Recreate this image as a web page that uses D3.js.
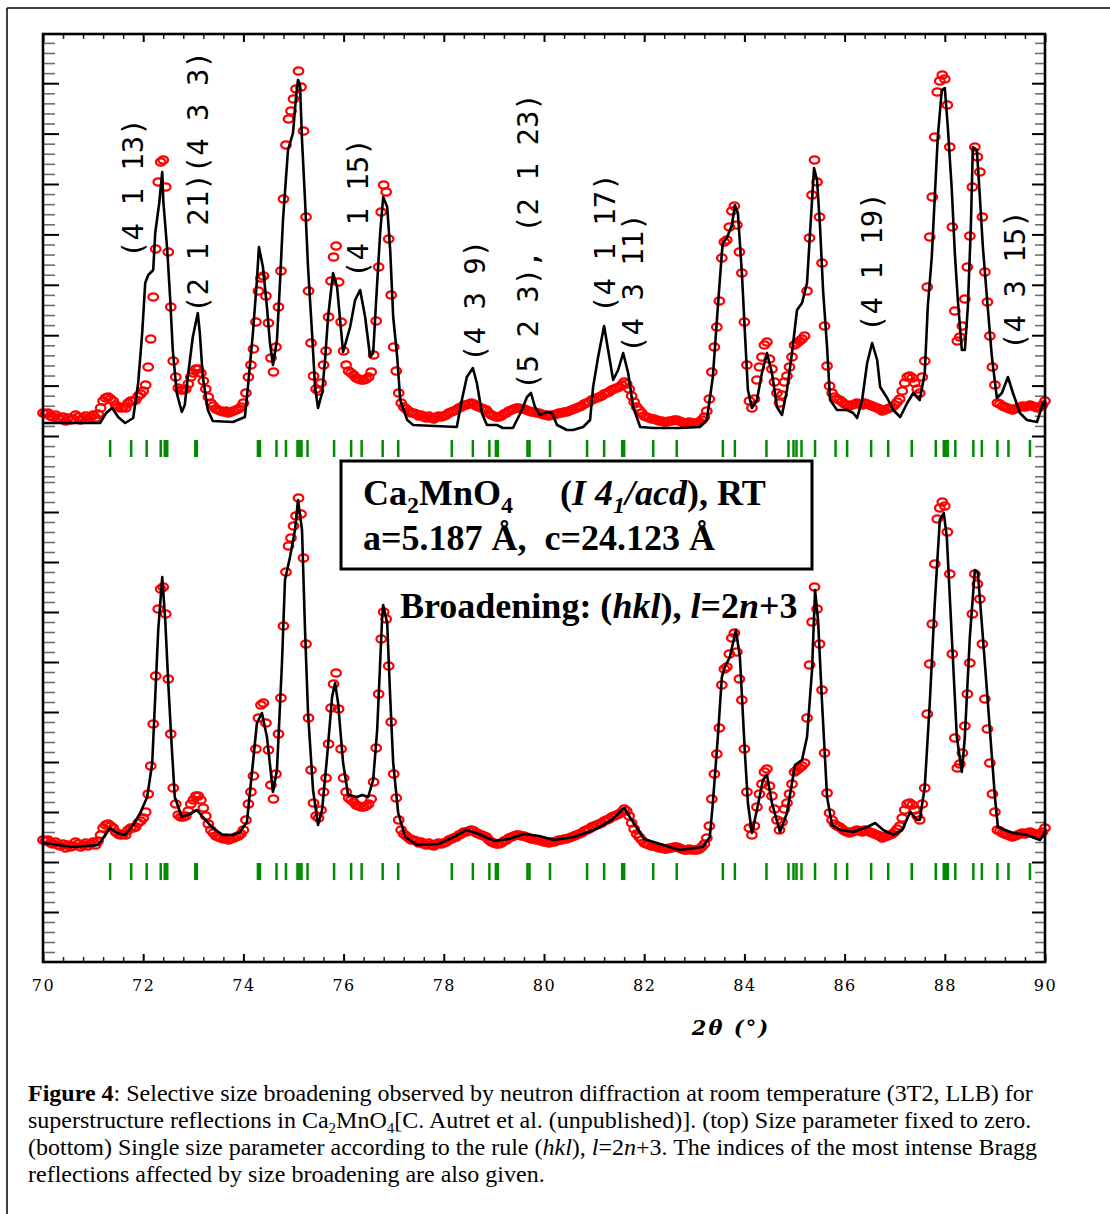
<!DOCTYPE html>
<html>
<head>
<meta charset="utf-8">
<script src="https://cdn.jsdelivr.net/npm/d3@7/dist/d3.min.js"></script>
<style>
  body { margin: 0; background: #fff; }
  svg { display: block; }
</style>
</head>
<body>
<svg id="fig" width="1110" height="1214"></svg>
<script>
// observed counts, 2theta from 70 to 90 in steps of 0.05 (one row per degree)
var obsStart = 70, obsStep = 0.05;
var obsCounts = [
  104,103,104,101,100,102,99,98,100,96,99,97,98,102,100,97,99,101,98,100,
  102,99,103,109,116,119,120,118,116,112,110,109,110,109,114,116,116,117,121,123,
  126,132,150,178,220,268,335,355,357,330,265,210,156,140,129,127,127,128,133,140,
  144,148,148,144,136,128,120,114,111,108,107,106,105,106,104,105,106,107,108,110,
  114,124,140,152,168,195,226,239,241,221,194,159,145,170,210,246,318,372,398,406,
  418,428,446,430,386,300,226,174,141,128,126,134,152,166,200,236,260,271,235,195,
  166,152,146,144,142,139,138,137,137,138,140,145,162,196,250,305,332,325,278,222,
  170,146,124,114,110,108,106,104,104,103,101,102,100,99,101,99,98,100,101,100,
  101,102,104,105,106,107,109,110,112,112,113,114,113,111,110,109,108,107,104,102,
  101,100,100,101,103,104,106,107,108,109,109,108,108,107,106,105,105,104,104,103,
  102,102,101,102,102,103,104,104,105,105,106,107,108,109,110,111,113,114,115,117,
  118,119,120,121,123,124,125,127,128,129,130,132,135,133,128,121,115,110,107,104,
  101,100,99,98,98,97,96,96,95,95,96,96,97,97,96,95,94,94,95,94,
  94,94,95,97,100,106,118,145,170,190,216,259,275,277,290,306,311,292,265,244,
  195,152,116,109,118,137,150,160,172,175,158,148,135,124,114,122,135,141,150,160,
  172,174,176,178,181,226,279,322,357,335,300,254,191,151,131,124,120,118,117,115,
  113,112,111,112,113,114,113,112,114,113,112,111,110,109,108,106,107,108,109,110,
  112,115,118,126,134,140,141,139,134,128,124,140,156,230,280,320,380,425,436,442,
  438,412,370,290,206,176,180,191,218,250,281,330,370,360,345,300,245,215,181,150,
  132,114,113,111,110,109,108,107,108,109,110,111,110,111,112,111,110,109,110,112,
  116
];

// calculated profile, size parameter fixed to zero (top)
var calcTop = [
  [70.00,94],[71.14,94],[71.26,104],[71.38,109],[71.50,100],[71.64,94],[71.80,99],[71.90,134],
  [71.98,184],[72.04,234],[72.10,242],[72.20,247],[72.24,284],[72.32,314],[72.38,345],[72.40,317],
  [72.48,267],[72.54,217],[72.59,167],[72.67,124],[72.77,105],[72.83,112],[72.89,140],[72.99,180],
  [73.09,204],[73.13,184],[73.19,140],[73.29,107],[73.39,96],[73.79,95],[74.03,100],[74.09,130],
  [74.19,184],[74.27,237],[74.31,270],[74.39,250],[74.47,210],[74.53,174],[74.59,152],[74.67,177],
  [74.73,234],[74.79,297],[74.89,367],[74.99,384],[75.05,420],[75.09,437],[75.13,432],[75.17,377],
  [75.23,317],[75.29,250],[75.37,184],[75.43,130],[75.49,109],[75.57,124],[75.63,157],[75.69,200],
  [75.79,244],[75.87,230],[75.93,197],[75.99,165],[76.13,190],[76.23,217],[76.33,227],[76.43,200],
  [76.53,160],[76.59,164],[76.67,234],[76.73,284],[76.79,320],[76.87,310],[76.93,267],[76.99,200],
  [77.07,160],[77.13,117],[77.27,97],[77.39,92],[78.26,90],[78.36,117],[78.46,140],[78.58,149],
  [78.66,134],[78.76,104],[78.86,92],[79.06,92],[79.18,89],[79.38,89],[79.56,107],[79.66,120],
  [79.74,124],[79.82,110],[79.92,102],[80.06,105],[80.16,104],[80.26,92],[80.46,87],[80.58,87],
  [80.78,90],[80.92,97],[80.98,130],[81.08,160],[81.20,191],[81.28,167],[81.38,137],[81.48,147],
  [81.58,164],[81.68,144],[81.78,110],[81.92,90],[82.18,89],[82.71,89],[83.11,90],[83.25,97],
  [83.37,140],[83.47,210],[83.55,264],[83.57,274],[83.65,279],[83.75,292],[83.81,312],[83.87,304],
  [83.95,244],[84.01,184],[84.07,127],[84.15,109],[84.25,117],[84.35,144],[84.45,164],[84.55,144],
  [84.65,110],[84.75,102],[84.85,127],[84.95,164],[85.05,207],[85.15,214],[85.25,234],[85.31,284],
  [85.39,349],[85.45,337],[85.51,290],[85.57,227],[85.65,170],[85.71,117],[85.85,107],[86.05,107],
  [86.17,104],[86.25,99],[86.35,117],[86.45,154],[86.55,174],[86.65,157],[86.71,130],[86.85,119],
  [86.97,107],[87.11,100],[87.25,114],[87.37,124],[87.50,117],[87.60,144],[87.66,210],[87.74,260],
  [87.80,320],[87.86,380],[87.94,427],[88.00,429],[88.06,390],[88.14,327],[88.20,264],[88.26,217],
  [88.34,167],[88.40,167],[88.46,210],[88.52,290],[88.56,370],[88.64,367],[88.70,320],[88.76,270],
  [88.84,220],[88.94,160],[89.04,119],[89.14,124],[89.26,140],[89.36,124],[89.50,104],[89.64,97],
  [89.84,95],[89.96,114],[90.00,112]
];

// calculated profile with the (hkl), l=2n+3 size parameter (bottom)
var calcBottom = [
  [70.00,101],[70.60,97],[71.10,99],[71.34,116],[71.48,111],[71.64,109],[71.80,119],[71.94,131],
  [72.08,147],[72.18,181],[72.24,247],[72.30,314],[72.38,367],[72.44,324],[72.50,261],[72.57,197],
  [72.63,147],[72.77,127],[72.89,129],[73.07,134],[73.19,127],[73.39,116],[73.59,109],[73.79,109],
  [73.93,112],[74.07,122],[74.19,181],[74.27,221],[74.37,231],[74.47,207],[74.59,152],[74.67,174],
  [74.77,281],[74.83,364],[74.93,387],[75.03,414],[75.09,444],[75.17,414],[75.23,314],[75.29,231],
  [75.39,154],[75.49,119],[75.57,134],[75.67,187],[75.77,247],[75.83,261],[75.89,241],[75.99,181],
  [76.09,149],[76.27,147],[76.37,149],[76.49,147],[76.59,164],[76.67,214],[76.77,327],[76.79,339],
  [76.87,321],[76.93,247],[76.99,181],[77.09,131],[77.23,107],[77.47,99],[77.90,100],[78.20,107],
  [78.45,114],[78.70,110],[79.00,103],[79.30,105],[79.60,110],[79.90,108],[80.20,104],[80.60,107],
  [81.00,114],[81.35,124],[81.60,136],[81.75,124],[82.00,105],[82.50,97],[82.71,94],[83.17,97],
  [83.31,107],[83.37,141],[83.47,207],[83.55,267],[83.61,277],[83.71,287],[83.83,314],[83.91,287],
  [84.01,191],[84.07,141],[84.15,111],[84.25,134],[84.37,164],[84.45,169],[84.55,141],[84.71,112],
  [84.85,131],[85.01,179],[85.15,184],[85.25,207],[85.35,274],[85.41,354],[85.47,324],[85.55,241],
  [85.65,147],[85.75,119],[85.91,114],[86.17,112],[86.45,117],[86.61,121],[86.77,114],[86.97,109],
  [87.15,114],[87.31,132],[87.45,124],[87.50,124],[87.60,157],[87.70,241],[87.80,341],[87.90,424],
  [87.98,431],[88.04,407],[88.14,307],[88.24,207],[88.34,172],[88.40,207],[88.50,307],[88.60,374],
  [88.66,371],[88.76,307],[88.86,241],[89.00,147],[89.06,117],[89.20,114],[89.36,111],[89.64,109],
  [89.90,104],[90.00,111]
];

// Bragg reflection positions (2theta)
var braggPos = [
  71.34,71.76,72.07,72.35,72.43,72.48,73.04,73.07,74.29,74.33,74.66,74.85,75.08,75.12,75.16,
  75.28,75.81,76.15,76.36,76.78,77.09,78.16,78.58,78.91,79.04,79.08,79.67,79.71,80.12,80.86,
  81.20,81.56,81.60,82.18,82.65,83.57,83.81,84.44,84.88,84.98,85.04,85.14,85.41,85.82,86.05,
  86.53,86.87,87.34,87.82,87.98,88.02,88.06,88.21,88.57,88.74,89.05,89.27,89.70
];

// hkl labels of the top panel: text, 2theta of the baseline, counts at the start of the text
var hklText = ['(4 1 13)', '(2 1 21)(4 3 3)', '(4 1 15)', '(4 3 9)', '(5 2 3), (2 1 23)',
               '(4 1 17)', '(4 3 11)', '(4 1 19)', '(4 3 15)'];
var hklAt = [72.00, 73.29, 76.49, 78.82, 79.88, 81.42, 81.98, 86.75, 89.60];
var hklBase = [259, 204, 239, 155, 127, 204, 164, 185, 167];

var xLabels = [70, 72, 74, 76, 78, 80, 82, 84, 86, 88, 90];

var svg = d3.select('#fig');

var x = d3.scaleLinear().domain([70, 90]).range([43, 1045]);
var yTop = d3.scaleLinear().domain([0, 483]).range([517, 34]);
var yBot = d3.scaleLinear().domain([0, 482]).range([944, 462]);
// tick scales for the two stacked frames (no labels on the intensity axes)
var tTop = d3.scaleLinear().domain([0, 100]).range([486.4, -17.6]);
var tBot = d3.scaleLinear().domain([0, 100]).range([962, 462]);

var obsData = obsCounts.map(function(c, i) { return [obsStart + i * obsStep, c]; });

// outer figure frame
svg.append('line').attr('x1', 7).attr('y1', 8).attr('x2', 1110).attr('y2', 8)
  .attr('stroke', '#000').attr('stroke-width', 1.5);
svg.append('line').attr('x1', 7).attr('y1', 8).attr('x2', 7).attr('y2', 1214)
  .attr('stroke', '#000').attr('stroke-width', 1.5);

// ---- axes ----
function styleTicks(g, colour, width) {
  g.select('.domain').remove();
  g.selectAll('.tick line').attr('stroke', colour).attr('stroke-width', width);
}

var xMinor = d3.range(0, 51).filter(function(i) { return i % 5; })
  .map(function(i) { return 70 + i * 0.4; });

svg.append('g').attr('transform', 'translate(0,962)')
  .call(d3.axisBottom(x).tickValues(xMinor).tickSize(-5).tickFormat(''))
  .call(styleTicks, '#222', 1.5);
svg.append('g').attr('transform', 'translate(0,962)')
  .call(d3.axisBottom(x).tickValues(xLabels).tickSize(-8).tickPadding(18).tickFormat(d3.format('d')))
  .call(styleTicks, '#000', 2)
  .call(function(g) {
    g.selectAll('text')
      .attr('font-family', '"DejaVu Serif", serif')
      .attr('font-size', 16)
      .attr('letter-spacing', 1.5)
      .attr('fill', '#000');
  });

svg.append('g').attr('transform', 'translate(0,34)')
  .call(d3.axisTop(x).tickValues(xMinor).tickSize(-5).tickFormat(''))
  .call(styleTicks, '#222', 1.5);
svg.append('g').attr('transform', 'translate(0,34)')
  .call(d3.axisTop(x).tickValues(xLabels).tickSize(-8).tickFormat(''))
  .call(styleTicks, '#000', 2);

function yAxes(scale, minorVals, majorVals) {
  svg.append('g').attr('transform', 'translate(43,0)')
    .call(d3.axisLeft(scale).tickValues(minorVals).tickSize(-12).tickFormat(''))
    .call(styleTicks, '#6e6e6e', 1.6);
  svg.append('g').attr('transform', 'translate(43,0)')
    .call(d3.axisLeft(scale).tickValues(majorVals).tickSize(-16).tickFormat(''))
    .call(styleTicks, '#000', 2);
  svg.append('g').attr('transform', 'translate(1045,0)')
    .call(d3.axisRight(scale).tickValues(minorVals).tickSize(-10).tickFormat(''))
    .call(styleTicks, '#6e6e6e', 1.6);
  svg.append('g').attr('transform', 'translate(1045,0)')
    .call(d3.axisRight(scale).tickValues(majorVals).tickSize(-13).tickFormat(''))
    .call(styleTicks, '#000', 2);
}
var isMajor = function(v) { return v % 10 === 0; };
var topTicks = d3.range(2, 90, 2), botTicks = d3.range(2, 98, 2);
yAxes(tTop, topTicks.filter(function(v) { return !isMajor(v); }), topTicks.filter(isMajor));
yAxes(tBot, botTicks.filter(function(v) { return !isMajor(v); }), botTicks.filter(isMajor));

// ---- panels ----
function drawPanel(y, calc, braggY) {
  var g = svg.append('g');
  g.selectAll('line.bragg')
    .data(braggPos)
    .enter()
    .append('line')
    .attr('class', 'bragg')
    .attr('x1', function(d) { return x(d); })
    .attr('x2', function(d) { return x(d); })
    .attr('y1', braggY)
    .attr('y2', braggY + 17)
    .attr('stroke', '#008a00')
    .attr('stroke-width', 2.5);

  g.selectAll('ellipse')
    .data(obsData)
    .enter()
    .append('ellipse')
    .attr('cx', function(d) { return x(d[0]); })
    .attr('cy', function(d) { return y(d[1]); })
    .attr('rx', 4.8)
    .attr('ry', 3.6)
    .attr('fill', 'none')
    .attr('stroke', '#ff0000')
    .attr('stroke-width', 2.2);

  var line = d3.line()
    .x(function(d) { return x(d[0]); })
    .y(function(d) { return y(d[1]); });
  g.append('path')
    .datum(calc)
    .attr('d', line)
    .attr('fill', 'none')
    .attr('stroke', '#000')
    .attr('stroke-width', 2.6)
    .attr('stroke-linejoin', 'round');
}
drawPanel(yTop, calcTop, 440);
drawPanel(yBot, calcBottom, 863);

// frame
svg.append('rect')
  .attr('x', 43).attr('y', 34).attr('width', 1002).attr('height', 928)
  .attr('fill', 'none').attr('stroke', '#000').attr('stroke-width', 2.6);

// hkl labels
svg.append('g').selectAll('text')
  .data(hklText)
  .enter()
  .append('text')
  .attr('transform', function(d, i) {
    return 'translate(' + x(hklAt[i]) + ',' + yTop(hklBase[i]) + ') rotate(-90)';
  })
  .attr('font-family', '"DejaVu Sans Mono", monospace')
  .attr('font-size', 29)
  .attr('fill', '#000')
  .text(function(d) { return d; });

// info box
svg.append('rect')
  .attr('x', 341).attr('y', 461).attr('width', 471).attr('height', 108)
  .attr('fill', '#fff').attr('stroke', '#000').attr('stroke-width', 3);

var serif = '"Liberation Serif", "Times New Roman", serif';
var t1 = svg.append('text').attr('x', 363).attr('y', 505)
  .attr('font-family', serif).attr('font-size', 36).attr('font-weight', 'bold');
t1.append('tspan').text('Ca');
t1.append('tspan').attr('font-size', 24).attr('dy', 8).text('2');
t1.append('tspan').attr('dy', -8).text('MnO');
t1.append('tspan').attr('font-size', 24).attr('dy', 8).text('4');

var t1b = svg.append('text').attr('x', 560).attr('y', 505)
  .attr('font-family', serif).attr('font-size', 36).attr('font-weight', 'bold');
t1b.append('tspan').text('(');
t1b.append('tspan').attr('font-style', 'italic').text('I 4');
t1b.append('tspan').attr('font-style', 'italic').attr('font-size', 24).attr('dy', 8).text('1');
t1b.append('tspan').attr('font-style', 'italic').attr('dy', -8).text('/acd');
t1b.append('tspan').text('), RT');

svg.append('text').attr('x', 363).attr('y', 550)
  .attr('font-family', serif).attr('font-size', 36).attr('font-weight', 'bold')
  .style('white-space', 'pre')
  .text('a=5.187 Å,  c=24.123 Å');

var t3 = svg.append('text').attr('x', 400).attr('y', 618)
  .attr('font-family', serif).attr('font-size', 36).attr('font-weight', 'bold');
t3.append('tspan').text('Broadening: (');
t3.append('tspan').attr('font-style', 'italic').text('hkl');
t3.append('tspan').text('), ');
t3.append('tspan').attr('font-style', 'italic').text('l');
t3.append('tspan').text('=2');
t3.append('tspan').attr('font-style', 'italic').text('n');
t3.append('tspan').text('+3');

// x axis title
svg.append('text').attr('x', 731).attr('y', 1035)
  .attr('text-anchor', 'middle')
  .attr('font-family', '"DejaVu Serif", serif')
  .attr('font-size', 21).attr('font-weight', 'bold').attr('font-style', 'italic')
  .attr('letter-spacing', 2)
  .text('2θ (°)');

// caption
var cap = svg.append('g')
  .attr('font-family', serif).attr('font-size', 24).attr('fill', '#000');
var c1 = cap.append('text').attr('x', 28).attr('y', 1101);
c1.append('tspan').attr('font-weight', 'bold').text('Figure 4');
c1.append('tspan').text(': Selective size broadening observed by neutron diffraction at room temperature (3T2, LLB) for');

var c2 = cap.append('text').attr('x', 28).attr('y', 1128);
c2.append('tspan').text('superstructure reflections in Ca');
c2.append('tspan').attr('font-size', 15).attr('dy', 5).text('2');
c2.append('tspan').attr('dy', -5).text('MnO');
c2.append('tspan').attr('font-size', 15).attr('dy', 5).text('4');
c2.append('tspan').attr('dy', -5).text('[C. Autret et al. (unpublished)]. (top) Size parameter fixed to zero.');

var c3 = cap.append('text').attr('x', 28).attr('y', 1155);
c3.append('tspan').text('(bottom) Single size parameter according to the rule (');
c3.append('tspan').attr('font-style', 'italic').text('hkl');
c3.append('tspan').text('), ');
c3.append('tspan').attr('font-style', 'italic').text('l');
c3.append('tspan').text('=2');
c3.append('tspan').attr('font-style', 'italic').text('n');
c3.append('tspan').text('+3. The indices of the most intense Bragg');

cap.append('text').attr('x', 28).attr('y', 1182)
  .text('reflections affected by size broadening are also given.');
</script>
</body>
</html>
